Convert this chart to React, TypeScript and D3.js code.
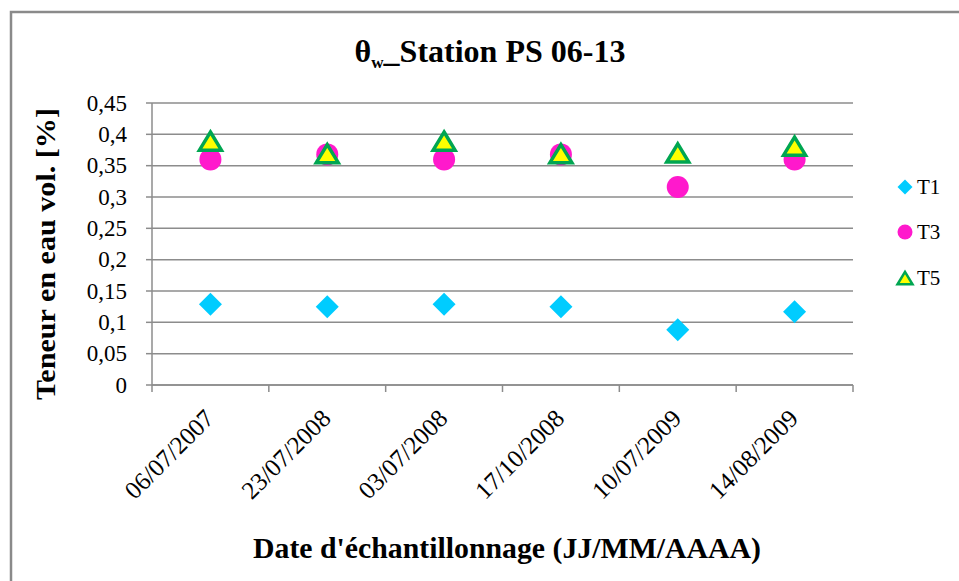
import React from "react";
import * as d3 from "d3";

const categories = ["06/07/2007", "23/07/2008", "03/07/2008", "17/10/2008", "10/07/2009", "14/08/2009"];
const T1 = [0.129, 0.125, 0.129, 0.125, 0.088, 0.117];
const T3 = [0.36, 0.368, 0.36, 0.368, 0.316, 0.36];
const T5 = [0.387, 0.367, 0.387, 0.367, 0.368, 0.379];
const yTicks = [0, 0.05, 0.1, 0.15, 0.2, 0.25, 0.3, 0.35, 0.4, 0.45];

const W = 959, H = 581;
const left = 152, right = 853, top = 103, bottom = 385;
const FONT = "'Liberation Serif', Tinos, 'DejaVu Serif', serif";

const diamond = (cx: number, cy: number, r: number) =>
  `M${cx},${cy - r}L${cx + r},${cy}L${cx},${cy + r}L${cx - r},${cy}Z`;
const triangle = (cx: number, cy: number, s: number) =>
  `M${cx},${cy - s * 0.95}L${cx + s},${cy + s * 0.7}L${cx - s},${cy + s * 0.7}Z`;

export default function App() {
  const x = d3.scaleBand<string>().domain(categories).range([left, right]);
  const y = d3.scaleLinear().domain([0, 0.45]).range([bottom, top]);
  const cx = (c: string) => (x(c) as number) + x.bandwidth() / 2;
  const fmt = (v: number) => String(+v.toFixed(2)).replace(".", ",");
  const grid = "#8c8c8c";

  return (
    <svg width={W} height={H} style={{ position: "absolute", left: 0, top: 0, background: "#fff", fontFamily: FONT }}>
      <rect x={0} y={0} width={W} height={H} fill="#fff" />
      <path d={`M11,${H + 5}V12H${W + 5}`} fill="none" stroke="#8a8a8a" strokeWidth={2.5} />
      {/* title */}
      <text x={490} y={62} textAnchor="middle" style={{ fontFamily: FONT }} fontWeight="bold" fontSize={32}>
        θ<tspan fontSize={17} dy={6}>w</tspan>
        <tspan dy={-6}>_Station PS 06-13</tspan>
      </text>
      {/* gridlines */}
      {yTicks.map((t) => (
        <line key={t} x1={left} x2={right} y1={y(t)} y2={y(t)} stroke={grid} strokeWidth={1.5} />
      ))}
      {/* y axis */}
      <line x1={left} x2={left} y1={top} y2={bottom} stroke={grid} strokeWidth={1.5} />
      {yTicks.map((t) => (
        <g key={"yt" + t}>
          <line x1={left - 6} x2={left} y1={y(t)} y2={y(t)} stroke={grid} strokeWidth={1.5} />
          <text x={127} y={y(t)} dy="0.33em" textAnchor="end" style={{ fontFamily: FONT }} fontSize={23}>
            {fmt(t)}
          </text>
        </g>
      ))}
      {/* x axis */}
      <line x1={left} x2={right} y1={bottom} y2={bottom} stroke={grid} strokeWidth={1.5} />
      {[...categories.map((c) => x(c) as number), right].map((px, i) => (
        <line key={"xt" + i} x1={px} x2={px} y1={bottom} y2={bottom + 7} stroke={grid} strokeWidth={1.5} />
      ))}
      {categories.map((c) => (
        <text
          key={"xl" + c}
          transform={`translate(${cx(c) + 5},${bottom + 35}) rotate(-45)`}
          textAnchor="end"
          style={{ fontFamily: FONT }}
          fontSize={25}
        >
          {c}
        </text>
      ))}
      {/* axis titles */}
      <text
        transform={`translate(55,254) rotate(-90)`}
        textAnchor="middle"
        style={{ fontFamily: FONT }}
        fontWeight="bold"
        fontSize={27}
        textLength={292}
        lengthAdjust="spacingAndGlyphs"
      >
        Teneur en eau vol. [%]
      </text>
      <text x={507} y={558} textAnchor="middle" style={{ fontFamily: FONT }} fontWeight="bold" fontSize={29}
        textLength={508} lengthAdjust="spacingAndGlyphs">
        Date d'échantillonnage (JJ/MM/AAAA)
      </text>
      {/* series */}
      {categories.map((c, i) => (
        <path key={"t1" + i} d={diamond(cx(c), y(T1[i]), 11.5)} fill="#00CCFF" />
      ))}
      {categories.map((c, i) => (
        <circle key={"t3" + i} cx={cx(c)} cy={y(T3[i])} r={11} fill="#FF19CC" />
      ))}
      {categories.map((c, i) => (
        <path key={"t5" + i} d={triangle(cx(c), y(T5[i]), 11)} fill="#FFFF00" stroke="#00A651" strokeWidth={3.5} strokeLinejoin="miter" />
      ))}
      {/* legend */}
      <path d={diamond(905, 187, 7.5)} fill="#00CCFF" />
      <text x={917} y={187} dy="0.35em" style={{ fontFamily: FONT }} fontSize={21}>T1</text>
      <circle cx={905} cy={232} r={7.5} fill="#FF19CC" />
      <text x={917} y={232} dy="0.35em" style={{ fontFamily: FONT }} fontSize={21}>T3</text>
      <path d={triangle(905, 279, 7.5)} fill="#FFFF00" stroke="#00A651" strokeWidth={2.5} />
      <text x={917} y={278} dy="0.35em" style={{ fontFamily: FONT }} fontSize={21}>T5</text>
    </svg>
  );
}
